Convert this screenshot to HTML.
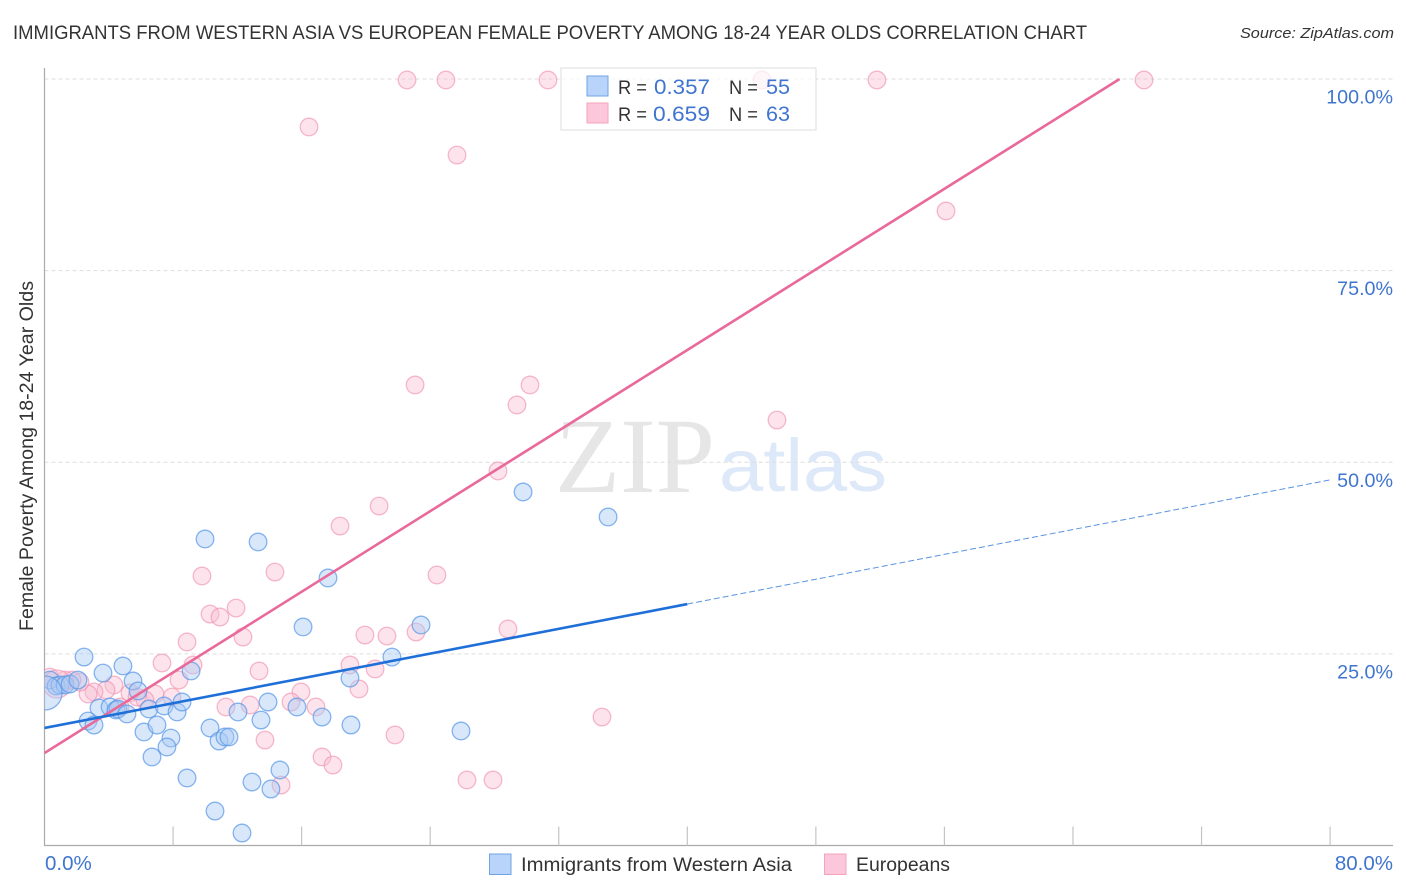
<!DOCTYPE html>
<html lang="en">
<head>
<meta charset="utf-8">
<title>Correlation Chart</title>
<style>
html,body{margin:0;padding:0;background:#fff;width:1406px;height:892px;overflow:hidden}
svg{display:block;font-family:"Liberation Sans",sans-serif}
</style>
</head>
<body>
<svg id="chart" xmlns="http://www.w3.org/2000/svg" width="1406" height="892" viewBox="0 0 1406 892">
  <defs><clipPath id="plot-clip"><rect x="44.5" y="60" width="1350" height="785.5"/></clipPath></defs>
  <rect x="0" y="0" width="1406" height="892" fill="#fff"/>
  <text x="13" y="39" font-size="19" fill="#333" textLength="1074" lengthAdjust="spacingAndGlyphs">IMMIGRANTS FROM WESTERN ASIA VS EUROPEAN FEMALE POVERTY AMONG 18-24 YEAR OLDS CORRELATION CHART</text>
  <text x="1394" y="38" font-size="15" font-style="italic" fill="#333" text-anchor="end" textLength="154" lengthAdjust="spacingAndGlyphs">Source: ZipAtlas.com</text>
  <g>
    <text x="555" y="492" font-family="'Liberation Serif',serif" font-size="107" fill="#e6e6e6" textLength="160" lengthAdjust="spacingAndGlyphs">ZIP</text>
    <text x="719" y="491" font-size="74" fill="#dde9f9" textLength="168" lengthAdjust="spacingAndGlyphs">atlas</text>
  </g>
  <g id="grid"></g>
  <g id="axes"></g>
  <g id="marks" clip-path="url(#plot-clip)"></g>
  <text transform="translate(33,456) rotate(-90)" font-size="19" fill="#333" text-anchor="middle" textLength="350" lengthAdjust="spacingAndGlyphs">Female Poverty Among 18-24 Year Olds</text>
  <g>
    <rect x="561" y="68" width="255" height="62" fill="#fff" fill-opacity="0.72" stroke="#ddd" stroke-width="1"/>
    <rect x="587" y="76" width="21" height="20" fill="#b8d4fa" stroke="#6fa3e3" stroke-width="1"/>
    <rect x="587" y="103" width="21" height="20" fill="#fcc7da" stroke="#f3a3bd" stroke-width="1"/>
    <text x="618" y="94" font-size="19" fill="#333" textLength="29" lengthAdjust="spacingAndGlyphs">R =</text>
    <text x="654" y="94" font-size="21" fill="#3f75cf" textLength="56" lengthAdjust="spacingAndGlyphs">0.357</text>
    <text x="729" y="94" font-size="19" fill="#333" textLength="29" lengthAdjust="spacingAndGlyphs">N =</text>
    <text x="766" y="94" font-size="21" fill="#3f75cf" textLength="24" lengthAdjust="spacingAndGlyphs">55</text>
    <text x="618" y="121" font-size="19" fill="#333" textLength="29" lengthAdjust="spacingAndGlyphs">R =</text>
    <text x="653" y="121" font-size="21" fill="#3f75cf" textLength="57" lengthAdjust="spacingAndGlyphs">0.659</text>
    <text x="729" y="121" font-size="19" fill="#333" textLength="29" lengthAdjust="spacingAndGlyphs">N =</text>
    <text x="766" y="121" font-size="21" fill="#3f75cf" textLength="24" lengthAdjust="spacingAndGlyphs">63</text>
  </g>
  <g>
    <rect x="489.5" y="854" width="21.5" height="20.5" fill="#b8d4fa" stroke="#6fa3e3" stroke-width="1"/>
    <text x="521" y="871" font-size="19" fill="#333" textLength="271" lengthAdjust="spacingAndGlyphs">Immigrants from Western Asia</text>
    <rect x="824.5" y="854" width="21.5" height="20.5" fill="#fcc7da" stroke="#f3a3bd" stroke-width="1"/>
    <text x="856" y="871" font-size="19" fill="#333" textLength="94" lengthAdjust="spacingAndGlyphs">Europeans</text>
  </g>
</svg>
<script>
const blueX = [2.46,4.88,3.64,5.51,5.82,9.12,3.39,4.08,4.45,4.57,5.13,2.71,3.08,6.19,6.50,7.00,7.44,8.25,8.56,7.87,7.62,6.69,8.87,10.61,12.29,12.91,14.09,14.65,10.30,10.86,11.23,11.48,12.04,13.47,13.91,15.71,17.27,19.07,19.01,21.62,23.43,16.09,17.64,13.29,9.99,29.78,35.07,25.92,0.34,0.72,0.96,1.28,1.59,2.08];
const blueY = [24.59,23.42,22.50,21.46,20.16,22.77,17.94,18.07,17.68,17.81,17.16,16.24,15.72,14.81,17.81,15.72,18.20,17.42,18.72,14.02,12.85,11.55,8.81,4.50,1.63,8.28,7.37,9.85,15.33,13.63,14.16,14.16,17.42,16.37,18.72,18.07,16.76,15.72,21.85,24.59,28.77,28.51,34.90,39.60,39.99,46.12,42.86,14.94,21.59,20.81,20.94,20.94,21.07,21.59];
const blueLargeX = [0.03];
const blueLargeY = [19.90];
const pinkX = [22.56,24.98,31.33,44.65,51.80,68.42,16.46,25.67,56.10,23.06,30.21,29.40,45.58,28.22,20.82,18.39,24.42,14.34,9.80,11.92,10.30,10.92,12.35,8.87,19.94,21.31,23.12,28.84,7.31,9.24,13.35,19.01,20.57,8.37,19.57,15.96,15.34,16.89,12.79,11.29,7.93,6.88,6.25,5.32,34.69,21.81,13.72,17.27,17.95,26.29,27.91,14.72,4.32,3.83,3.08,2.71,2.21,1.71,0.34,5.76,4.70,1.28];
const pinkY = [99.87,99.87,99.87,99.87,99.87,99.87,93.74,90.08,82.78,60.08,60.08,57.47,55.51,48.86,44.29,41.68,35.29,35.68,35.16,30.98,30.20,29.81,27.20,26.55,27.46,27.33,27.85,28.25,23.81,23.55,22.77,23.55,23.03,21.59,20.42,20.03,18.72,18.07,18.33,18.07,19.37,19.77,18.98,19.90,16.76,14.42,13.76,11.55,10.50,8.55,8.55,7.89,20.94,20.29,20.03,19.77,21.33,21.59,21.98,19.37,18.07,21.59];
const pinkLargeX = [0.78];
const pinkLargeY = [21.07];
const blueTrendX = [0, 40];
const blueTrendY = [15.33, 31.5];
const blueTrendDashX = [40, 80];
const blueTrendDashY = [31.5, 47.7];
const pinkTrendX = [0, 66.9];
const pinkTrendY = [12.07, 100];
const xTicks = [0, 8, 16, 24, 32, 40, 48, 56, 64, 72, 80];
const xTickLabels = ["0.0%", "80.0%"];
const yTicks = [25, 50, 75, 100];
const yTickLabels = ["25.0%", "50.0%", "75.0%", "100.0%"];

const NS = "http://www.w3.org/2000/svg";
const xScale = v => 44.5 + v * 16.07;
const yScale = v => 845.5 - v * 7.665;
const grid = document.getElementById("grid");
const axes = document.getElementById("axes");
const marks = document.getElementById("marks");

function make(tag, attrs, parent) {
  const el = document.createElementNS(NS, tag);
  for (const k in attrs) el.setAttribute(k, attrs[k]);
  parent.appendChild(el);
  return el;
}

yTicks.forEach((t, i) => {
  const line = make("line", {x1: 44.5, x2: 1393, y1: yScale(t), y2: yScale(t), stroke: "#ddd", "stroke-width": 1, "stroke-dasharray": "4 3"}, grid);
  
  
  const label = make("text", {x: 1393, y: yScale(t) + 24.5, "text-anchor": "end", "font-size": 19.7, fill: "#3f75cf"}, axes);
  
  
  label.textContent = yTickLabels[i];
});

const yAxis = make("line", {x1: 44.5, x2: 44.5, y1: 68, y2: 845.5, stroke: "#aaa", "stroke-width": 1.2}, axes);


const xAxis = make("line", {x1: 44, x2: 1393, y1: 845.5, y2: 845.5, stroke: "#aaa", "stroke-width": 1.2}, axes);



xTicks.slice(1).forEach(t => {
  const tick = make("line", {x1: xScale(t), x2: xScale(t), y1: 826.5, y2: 845.5, stroke: "#c4c4c4", "stroke-width": 1.2}, axes);
  
  
});

const xLabelLeft = make("text", {x: 45, y: 870, "font-size": 20.5, fill: "#3f75cf"}, axes);


xLabelLeft.textContent = xTickLabels[0];
const xLabelRight = make("text", {x: 1393, y: 870, "text-anchor": "end", "font-size": 20.5, fill: "#3f75cf"}, axes);


xLabelRight.textContent = xTickLabels[1];

function drawPoints(xs, ys, r, fill, fillOpacity, stroke, strokeOpacity, name) {
  xs.forEach((x, i) => {
    const c = make("circle", {cx: xScale(x), cy: yScale(ys[i]), r: r, fill: fill, "fill-opacity": fillOpacity, stroke: stroke, "stroke-opacity": strokeOpacity, "stroke-width": 1.3}, marks);
    
    
  });
}

drawPoints(pinkX, pinkY, 8.8, "#f9bdd1", 0.42, "#f08fae", 0.62, "european-point");
drawPoints(pinkLargeX, pinkLargeY, 14, "#f9bdd1", 0.42, "#f08fae", 0.62, "european-point-large");
drawPoints(blueX, blueY, 8.8, "#a9c9f5", 0.45, "#5a98e8", 0.72, "immigrant-point");
drawPoints(blueLargeX, blueLargeY, 17, "#a9c9f5", 0.45, "#5a98e8", 0.72, "immigrant-point-large");

const pinkTrend = make("line", {x1: xScale(pinkTrendX[0]), y1: yScale(pinkTrendY[0]), x2: xScale(pinkTrendX[1]), y2: yScale(pinkTrendY[1]), stroke: "#e8699a", "stroke-width": 2.6}, marks);


const blueTrend = make("line", {x1: xScale(blueTrendX[0]), y1: yScale(blueTrendY[0]), x2: xScale(blueTrendX[1]), y2: yScale(blueTrendY[1]), stroke: "#1f6fd9", "stroke-width": 2.6}, marks);


const blueDash = make("line", {x1: xScale(blueTrendDashX[0]), y1: yScale(blueTrendDashY[0]), x2: xScale(blueTrendDashX[1]), y2: yScale(blueTrendDashY[1]), stroke: "#5a93e0", "stroke-width": 1, "stroke-dasharray": "6 3"}, marks);


</script>
</body>
</html>
